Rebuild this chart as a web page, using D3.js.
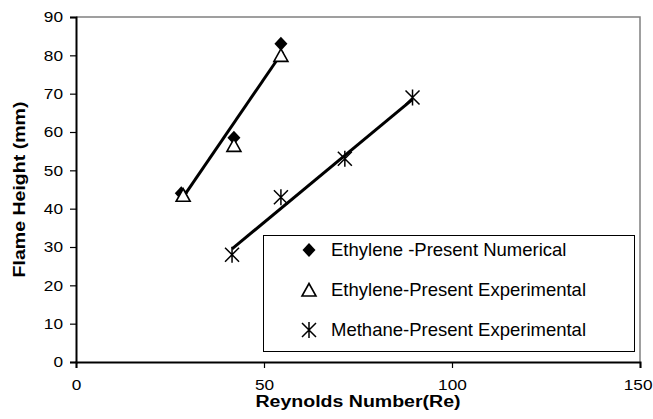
<!DOCTYPE html>
<html>
<head>
<meta charset="utf-8">
<script src="https://cdn.jsdelivr.net/npm/d3@7"></script>
<style>
  body { margin: 0; background: #fff; }
  text { font-family: "Liberation Sans", Arial, sans-serif; fill: #000; }
</style>
</head>
<body>
<div id="chart"></div>
<script>
// valores
const ethyleneNumerical = [[28, 44], [42, 58.5], [54.5, 83]];
const ethyleneExperimental = [[28.5, 43.5], [42, 56.5], [54.5, 80]];
const methaneExperimental = [[41.5, 28], [54.5, 43], [71.5, 53], [89.5, 69]];
const ethyleneTrend = [[28, 42.3], [55, 81]];
const methaneTrend = [[41.5, 29.5], [89.5, 68.5]];
const xTicks = [0, 50, 100, 150];
const yTicks = [0, 10, 20, 30, 40, 50, 60, 70, 80, 90];
const legendLabels = ["Ethylene -Present Numerical", "Ethylene-Present Experimental", "Methane-Present Experimental"];

const width = 653, height = 419;
const margin = {left: 76, right: 13, top: 17, bottom: 57};
const sx = 1.15; // las etiquetas del original salen algo ensanchadas

const svg = d3.select("#chart").append("svg")
    .attr("width", width)
    .attr("height", height);

const x = d3.scaleLinear().domain([0, 150]).range([margin.left, width - margin.right]);
const y = d3.scaleLinear().domain([0, 90]).range([height - margin.bottom, margin.top]);

// borde gris del área de trazado (arriba y derecha)
svg.append("path")
    .attr("d", `M${x(0)},${y(90)}H${x(150)}V${y(0)}`)
    .attr("fill", "none")
    .attr("stroke", "#808080")
    .attr("stroke-width", 1.5);

const xAxis = svg.append("g")
    .attr("transform", `translate(0,${y(0)})`)
    .call(d3.axisBottom(x).tickValues(xTicks).tickSize(6));
const yAxis = svg.append("g")
    .attr("transform", `translate(${x(0)},0)`)
    .call(d3.axisLeft(y).tickValues(yTicks).tickSize(6));

[xAxis, yAxis].forEach(g => {
    g.select(".domain").attr("stroke", "#000").attr("stroke-width", 2);
    g.selectAll(".tick line").attr("stroke", "#000").attr("stroke-width", 1.2);
    g.selectAll(".tick text")
        .style("font-family", "'Liberation Sans', Arial, sans-serif")
        .style("font-size", "15px")
        .attr("fill", "#000");
});
xAxis.selectAll(".tick text")
    .attr("y", 0)
    .attr("dy", 0)
    .attr("transform", `translate(0,28) scale(${sx},1)`);
// la última etiqueta queda pegada al borde derecho
xAxis.selectAll(".tick text")
    .filter(d => d === xTicks[xTicks.length - 1])
    .attr("text-anchor", "end")
    .attr("transform", `translate(12,28) scale(${sx},1)`);
yAxis.selectAll(".tick text")
    .attr("x", 0)
    .attr("transform", `translate(-13,0) scale(${sx},1)`);

// títulos de ejes
svg.append("text")
    .attr("transform", `translate(${(x(0) + x(150)) / 2},407) scale(${sx},1)`)
    .attr("text-anchor", "middle")
    .style("font-size", "17px")
    .style("font-weight", "bold")
    .text("Reynolds Number(Re)");

svg.append("text")
    .attr("transform", `translate(25,${(y(0) + y(90)) / 2}) rotate(-90) scale(${sx},1)`)
    .attr("text-anchor", "middle")
    .style("font-size", "17px")
    .style("font-weight", "bold")
    .text("Flame Height (mm)");

// líneas de tendencia
const line = d3.line().x(d => x(d[0])).y(d => y(d[1]));
[ethyleneTrend, methaneTrend].forEach(t => {
    svg.append("path")
        .attr("d", line(t))
        .attr("fill", "none")
        .attr("stroke", "#000")
        .attr("stroke-width", 3);
});

// marcadores
const diamondPath = "M0,-7L6.5,0L0,7L-6.5,0Z";
const trianglePath = "M0,-6.5L7,6L-7,6Z";
const asteriskPath = "M-7,-7L7,7M-7,7L7,-7M0,-8L0,8";

function drawDiamond(g, cx, cy) {
    g.append("path").attr("d", diamondPath).attr("transform", `translate(${cx},${cy})`)
        .attr("fill", "#000");
}
function drawTriangle(g, cx, cy) {
    g.append("path").attr("d", trianglePath).attr("transform", `translate(${cx},${cy})`)
        .attr("fill", "#fff").attr("stroke", "#000").attr("stroke-width", 1.6);
}
function drawAsterisk(g, cx, cy) {
    g.append("path").attr("d", asteriskPath).attr("transform", `translate(${cx},${cy})`)
        .attr("fill", "none").attr("stroke", "#000").attr("stroke-width", 1.5);
}

const marks = svg.append("g");
ethyleneNumerical.forEach(d => drawDiamond(marks, x(d[0]), y(d[1])));
ethyleneExperimental.forEach(d => drawTriangle(marks, x(d[0]), y(d[1])));
methaneExperimental.forEach(d => drawAsterisk(marks, x(d[0]), y(d[1])));

// leyenda
const legend = svg.append("g");
legend.append("rect")
    .attr("x", 263.5).attr("y", 235.5)
    .attr("width", 371).attr("height", 116)
    .attr("fill", "#fff")
    .attr("stroke", "#000")
    .attr("stroke-width", 1);

const drawers = [drawDiamond, drawTriangle, drawAsterisk];
legendLabels.forEach((lab, i) => {
    const ly = 250 + i * 40;
    drawers[i](legend, 309, ly);
    legend.append("text")
        .attr("x", 331)
        .attr("y", ly)
        .attr("dy", "0.35em")
        .style("font-size", "18.5px")
        .text(lab);
});
</script>
</body>
</html>
